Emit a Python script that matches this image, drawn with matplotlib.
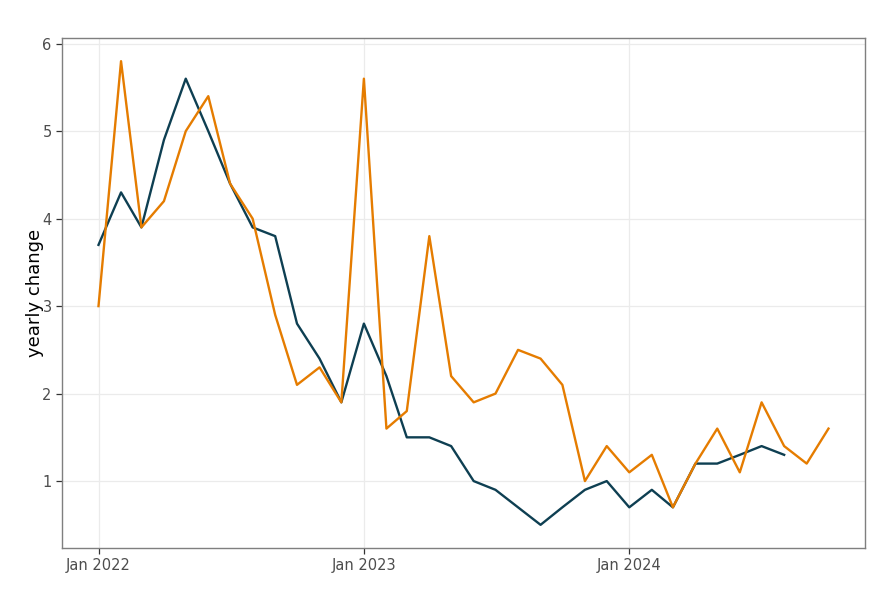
#!/usr/bin/env python
"""Yearly change of two monthly series, 2022-2024."""

import matplotlib

matplotlib.use("Agg")

import matplotlib.dates as mdates
import matplotlib.pyplot as plt
import pandas as pd

DARK_VALUES = [
    3.7, 4.3, 3.9, 4.9, 5.6, 5.0, 4.4, 3.9, 3.8, 2.8, 2.4, 1.9,
    2.8, 2.2, 1.5, 1.5, 1.4, 1.0, 0.9, 0.7, 0.5, 0.7, 0.9, 1.0,
    0.7, 0.9, 0.7, 1.2, 1.2, 1.3, 1.4, 1.3,
]
ORANGE_VALUES = [
    3.0, 5.8, 3.9, 4.2, 5.0, 5.4, 4.4, 4.0, 2.9, 2.1, 2.3, 1.9,
    5.6, 1.6, 1.8, 3.8, 2.2, 1.9, 2.0, 2.5, 2.4, 2.1, 1.0, 1.4,
    1.1, 1.3, 0.7, 1.2, 1.6, 1.1, 1.9, 1.4, 1.2, 1.6,
]
START = "2022-01-01"
Y_TICKS = [1, 2, 3, 4, 5, 6]
X_TICKS = ["2022-01-01", "2023-01-01", "2024-01-01"]

DARK = "#0e3f52"
ORANGE = "#e57c00"
GRID = "#ebebeb"
TEXT = "#4d4d4d"


def main() -> None:
    dark_dates = pd.date_range(START, periods=len(DARK_VALUES), freq="MS")
    orange_dates = pd.date_range(START, periods=len(ORANGE_VALUES), freq="MS")

    fig = plt.figure(figsize=(8.9, 6.0), dpi=100)
    ax = fig.add_axes([62 / 890, 52 / 600, 803 / 890, 510 / 600])

    ax.plot(dark_dates, DARK_VALUES, color=DARK, linewidth=1.7, zorder=3)
    ax.plot(orange_dates, ORANGE_VALUES, color=ORANGE, linewidth=1.7, zorder=4)

    # ggplot-style 5% expansion
    x0 = mdates.date2num(orange_dates[0])
    x1 = mdates.date2num(orange_dates[-1])
    pad = (x1 - x0) * 0.05
    ax.set_xlim(x0 - pad, x1 + pad)
    lo = min(min(DARK_VALUES), min(ORANGE_VALUES))
    hi = max(max(DARK_VALUES), max(ORANGE_VALUES))
    ypad = (hi - lo) * 0.05
    ax.set_ylim(lo - ypad, hi + ypad)

    ax.set_yticks(Y_TICKS)
    ax.set_xticks(pd.to_datetime(X_TICKS))
    ax.xaxis.set_major_formatter(mdates.DateFormatter("%b %Y"))

    ax.grid(True, color=GRID, linewidth=0.9)
    ax.set_axisbelow(True)
    for spine in ax.spines.values():
        spine.set_color("#7f7f7f")
        spine.set_linewidth(1.0)
    ax.tick_params(colors="#333333", labelcolor=TEXT, labelsize=10.5, length=4, width=0.9)

    ax.set_ylabel("yearly change", fontsize=13, color="black", labelpad=-1)

    fig.savefig("out.png", dpi=100)
    plt.close(fig)


if __name__ == "__main__":
    main()
